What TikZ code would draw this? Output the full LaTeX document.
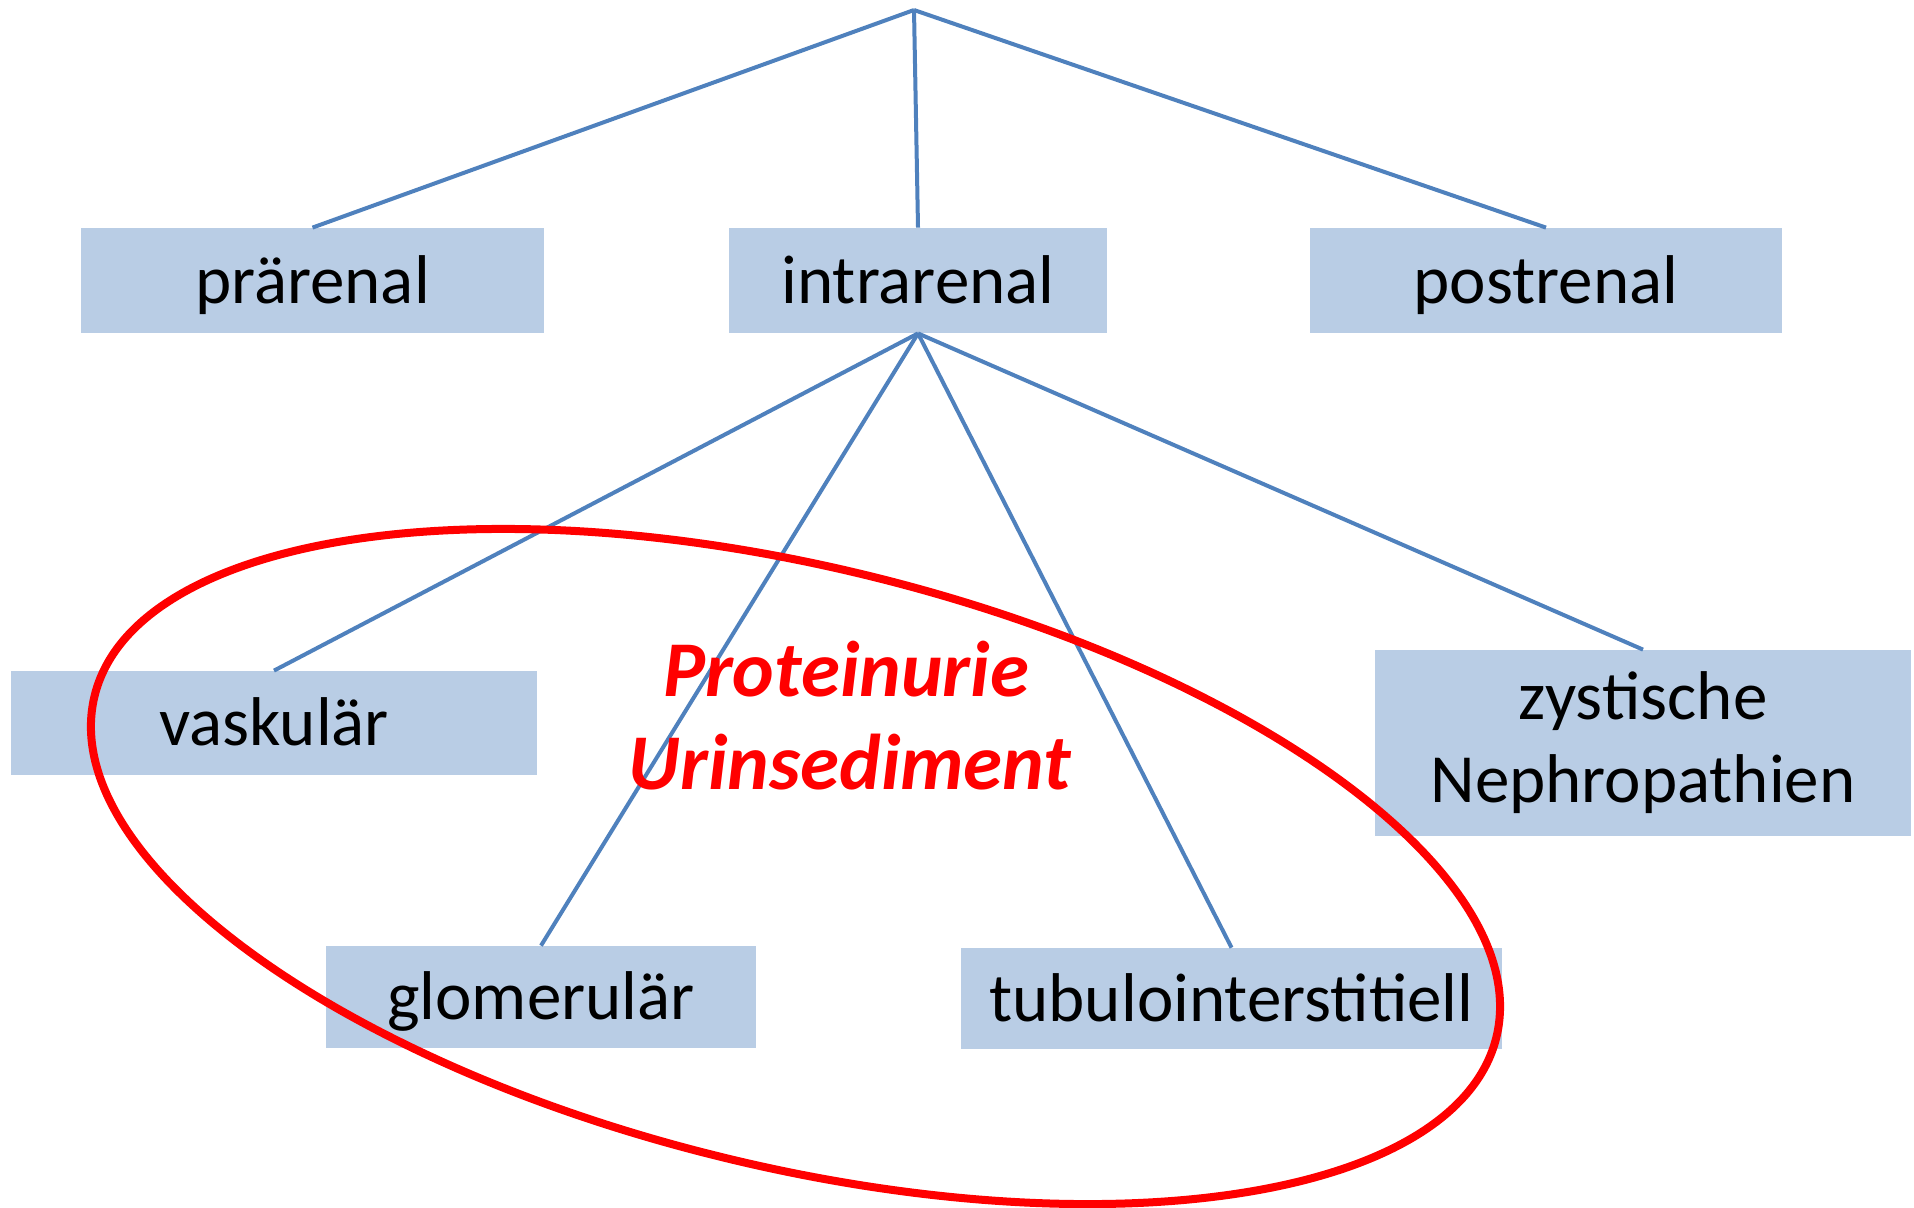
\documentclass[tikz,border=0pt]{standalone}
\usepackage{fontspec}
\setmainfont{Carlito}
\definecolor{boxblue}{HTML}{B9CDE5}
\definecolor{linkblue}{HTML}{4F81BD}

\begin{document}
\begin{tikzpicture}[x=0.5pt, y=-0.5pt,
    box/.style={fill=boxblue, inner sep=0pt, text height=22.5pt, text depth=0pt,
      font=\fontsize{34.5}{41.5}\selectfont},
    link/.style={draw=linkblue, line width=2pt},
    ring/.style={draw=red, line width=4pt},
    note/.style={text=red, inner sep=0pt, font=\fontsize{39.5}{45}\selectfont\bfseries\itshape}]
    \useasboundingbox (0,0) rectangle (1914,1207);

    % first level
    \coordinate (top) at (914,10);
    \node[box, minimum width=231.5pt, minimum height=52.5pt] (prae) at (312.5,280.5) {prärenal};
    \node[box, minimum width=189pt, minimum height=52.5pt] (intra) at (918,280.5) {intrarenal};
    \node[box, minimum width=236pt, minimum height=52.5pt] (post) at (1546,280.5) {postrenal};

    % second level
    \node[box, minimum width=263pt, minimum height=52pt] (vask) at (274,723) {vaskulär};
    \node[box, minimum width=215pt, minimum height=51pt] (glom) at (541,997) {glomerulär};
    \node[box, minimum width=270.5pt, minimum height=50.5pt] (tubu) at (1231.5,998.5) {tubulointerstitiell};
    \node[box, minimum width=268pt, minimum height=93pt, text height={}, text depth={}, align=center]
      (zyst) at (1643,743) {zystische\\Nephropathien};

    % connectors
    \draw[link] (top) -- (prae.north);
    \draw[link] (top) -- (intra.north);
    \draw[link] (top) -- (post.north);
    \draw[link] (intra.south) -- (vask.north);
    \draw[link] (intra.south) -- (glom.north);
    \draw[link] (intra.south) -- (tubu.north);
    \draw[link] (intra.south) -- (zyst.north);

    % red ring
    \coordinate (mid) at (795.5,866.5);
    \draw[ring, rotate around={-13.67:(mid)}] (mid) ellipse [x radius=721.4, y radius=299.8];
    \node[note, anchor=base] (prot) at (846,696) {Proteinurie};
    \node[note, anchor=base] (urin) at (850,789) {Urinsediment};
\end{tikzpicture}
\end{document}
